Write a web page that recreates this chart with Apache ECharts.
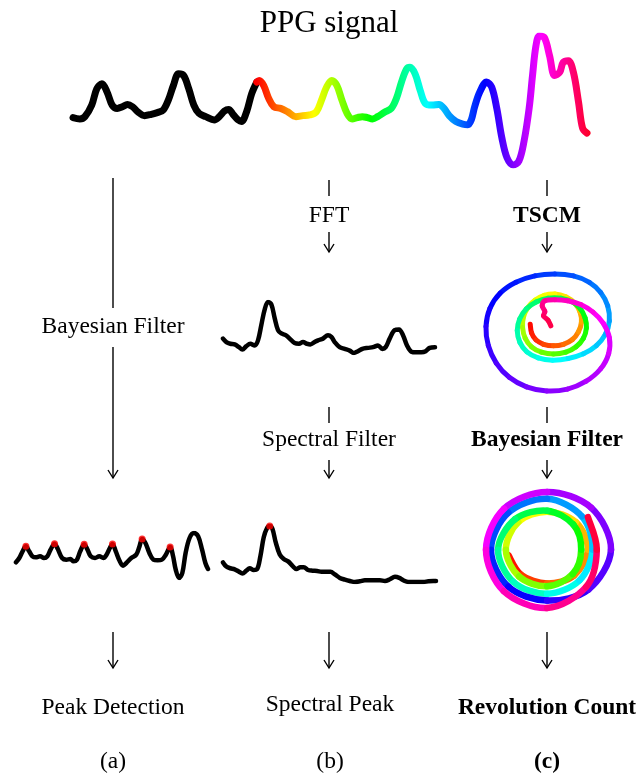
<!DOCTYPE html>
<html><head><meta charset="utf-8">
<script src="https://cdn.jsdelivr.net/npm/echarts@6.0.0/dist/echarts.min.js"></script>
<style>html,body{margin:0;padding:0;background:#fff}#c{width:644px;height:774px}</style>
</head><body><div id="c"></div>
<script>
// ---- data (in trace units) ----
const ppgBlack = [[25,268],[45,272],[60,265],[80,230],[95,180],[110,165],[125,190],[140,230],[155,240],[170,235],[185,228],[200,235],[215,250],[235,262],[255,258],[275,252],[290,245],[305,215],[320,170],[335,135],[350,140],[365,180],[380,230],[395,255],[415,265],[440,275],[455,265],[470,248],[482,243],[495,258],[510,275],[520,280],[535,250],[550,195],[565,160]];
const ppgColor = [[565,160],[572,155],[585,170],[600,210],[615,235],[635,240],[655,250],[680,265],[700,262],[720,260],[740,250],[755,215],[770,175],[785,155],[800,170],[815,215],[830,255],[845,272],[860,268],[875,265],[890,268],[905,272],[920,265],[940,252],[960,240],[975,210],[990,160],[1005,120],[1015,115],[1030,135],[1045,185],[1060,225],[1080,230],[1100,228],[1115,240],[1130,262],[1150,280],[1170,288],[1185,290],[1195,275],[1205,235],[1220,190],[1240,160],[1255,175],[1270,240],[1285,330],[1300,390],[1318,412],[1335,400],[1350,340],[1365,240],[1375,140],[1385,50],[1395,20],[1410,25],[1425,80],[1440,140],[1455,130],[1465,100],[1480,95],[1495,130],[1510,220],[1522,300],[1535,315]];
const peakSignal = [[45,158],[55,145],[65,125],[75,110],[85,125],[95,140],[105,143],[118,140],[130,145],[140,140],[150,120],[162,102],[172,118],[185,145],[198,150],[210,148],[220,155],[230,150],[240,125],[252,104],[262,120],[272,140],[285,145],[298,140],[310,145],[320,135],[330,115],[338,103],[348,125],[358,150],[370,168],[380,160],[395,145],[410,135],[420,110],[428,88],[438,100],[450,130],[462,150],[475,152],[488,150],[500,135],[513,112],[522,140],[530,180],[540,205],[550,190],[560,130],[572,85],[585,70],[598,80],[610,120],[620,160],[628,178]];
const peakIdx = [3,11,19,27,35,42];
const fftSpectrum = [[40,145],[50,155],[62,160],[75,162],[88,170],[98,177],[110,167],[122,160],[135,165],[145,150],[155,105],[165,60],[175,38],[185,45],[195,85],[205,120],[215,130],[228,135],[240,145],[255,158],[268,160],[280,155],[292,160],[302,162],[315,155],[325,150],[340,145],[355,135],[365,140],[375,155],[390,170],[405,175],[420,180],[432,187],[445,182],[458,175],[475,172],[490,170],[505,165],[518,175],[528,170],[540,145],[555,120],[568,118],[580,135],[592,165],[605,183],[620,185],[635,185],[648,182],[660,172],[676,170]];
const filteredSpectrum = [[40,158],[50,170],[62,175],[75,178],[88,185],[98,190],[110,182],[120,175],[132,180],[142,178],[152,140],[162,85],[172,58],[180,52],[188,60],[198,100],[210,135],[222,148],[235,155],[248,168],[260,177],[272,172],[282,172],[295,180],[308,182],[322,183],[335,185],[348,185],[362,185],[375,193],[390,203],[405,208],[420,212],[435,215],[450,213],[465,210],[480,210],[495,210],[510,210],[525,212],[540,207],[555,200],[568,203],[580,210],[595,215],[610,215],[625,215],[640,215],[655,213],[670,212],[678,212]];
const spectralPeakIdx = [13];
const tscmRaw = [[178,158],[182,185],[195,207],[218,221],[248,226],[278,221],[305,206],[323,182],[332,152],[328,120],[312,92],[285,72],[252,63],[220,67],[193,82],[172,104],[158,134],[155,168],[163,202],[182,229],[212,246],[248,252],[285,246],[316,229],[338,202],[347,170],[343,138],[328,108],[303,87],[270,76],[232,76],[196,88],[166,110],[146,142],[139,178],[147,215],[168,245],[202,264],[245,271],[292,266],[338,251],[377,225],[404,190],[416,148],[411,100],[390,58],[356,26],[308,6],[252,0],[192,6],[135,26],[88,60],[57,108],[45,165],[52,225],[76,280],[115,325],[167,355],[228,368],[290,362],[345,338],[390,298],[414,250],[416,200],[398,155],[367,120],[330,96],[290,84],[252,81],[222,84],[214,100],[222,118],[218,132],[232,146],[240,163]];
const tscmFiltered = [[119,228],[155,286],[228,312],[304,288],[343,212],[309,131],[228,100],[147,131],[112,212],[149,291],[228,320],[300,284],[324,212],[302,138],[228,97],[138,122],[90,212],[133,307],[228,342],[319,303],[356,212],[326,114],[228,62],[119,103],[70,212],[119,321],[228,362],[345,329],[408,212],[352,88],[228,42],[107,91],[56,212],[106,334],[228,384],[338,322],[368,212],[343,116]];
const labels = ['PPG signal','Bayesian Filter','FFT','TSCM','Spectral Filter','Bayesian Filter','Peak Detection','Spectral Peak','Revolution Count','(a)','(b)','(c)'];

// ---- layout ----
const grids = [
  {left:73, top:36, width:514, height:129, x:[25,1535], y:[20,412]},
  {left:16, top:533, width:192, height:45, x:[45,628], y:[70,205]},
  {left:223, top:302, width:212, height:51, x:[40,676], y:[38,187]},
  {left:223, top:526, width:213, height:56, x:[40,678], y:[52,215]},
  {left:486, top:274, width:124, height:117, x:[45,418], y:[0,368]},
  {left:486, top:492, width:125, height:116, x:[56,408], y:[42,384]}
];

// colour runs along the trajectory (time order), red -> magenta/pink
function rainbow(pts, gi, lw, hueEnd) {
  const n = pts.length;
  return {
    type:'custom', coordinateSystem:'cartesian2d', xAxisIndex:gi, yAxisIndex:gi, silent:true,
    data: pts.map(p => [p[0], p[1]]),
    renderItem(params, api) {
      const i = params.dataIndex;
      if (i >= n-1) return null;
      const c = k => api.coord(pts[Math.max(0, Math.min(n-1, k))]);
      const p0=c(i-1), p1=c(i), p2=c(i+1), p3=c(i+2);
      const t = 1/6;
      const hue = hueEnd * (i + 0.5) / (n - 1);
      return {type:'bezierCurve', shape:{x1:p1[0],y1:p1[1],x2:p2[0],y2:p2[1],
        cpx1:p1[0]+(p2[0]-p0[0])*t, cpy1:p1[1]+(p2[1]-p0[1])*t,
        cpx2:p2[0]-(p3[0]-p1[0])*t, cpy2:p2[1]-(p3[1]-p1[1])*t},
        style:{stroke:'hsl('+hue.toFixed(1)+',100%,50%)', lineWidth:lw, lineCap:'round', fill:null}};
    }
  };
}
function blackLine(data, gi, lw) {
  return {type:'line', xAxisIndex:gi, yAxisIndex:gi, data, symbol:'none', smooth:0.35, silent:true,
    lineStyle:{color:'#000', width:lw, cap:'round', join:'round'}};
}
function dots(src, idx, gi) {
  return {type:'scatter', xAxisIndex:gi, yAxisIndex:gi, data: idx.map(i => src[i]), symbolSize:7, silent:true,
    itemStyle:{color:'#ff0000'}, z:5};
}

const FONT = 'Liberation Serif';
const txt = (t, x, y, size, bold) => ({type:'text', x, y, silent:true,
  style:{text:t, fontFamily:FONT, fontSize:size, fontWeight:bold?'bold':'normal', fill:'#000', align:'center', verticalAlign:'middle'}});
const seg = (x, y1, y2) => ({type:'line', silent:true, shape:{x1:x,y1:y1,x2:x,y2:y2}, style:{stroke:'#000', lineWidth:1.4}});
const head = (x, y) => ({type:'polyline', silent:true, shape:{points:[[x-5,y-8],[x,y],[x+5,y-8]]}, style:{stroke:'#000', lineWidth:1.4, fill:null}});
const arrow = (x, y1, y2) => [seg(x, y1, y2), head(x, y2)];

const S = 23.5;
const graphics = [
  txt(labels[0], 329, 24, 31, false),
  txt(labels[1], 113, 327, S, false),
  txt(labels[2], 329, 216, S, false),
  txt(labels[3], 547, 216, S, true),
  txt(labels[4], 329, 440, S, false),
  txt(labels[5], 547, 440, S, true),
  txt(labels[6], 113, 708, S, false),
  txt(labels[7], 330, 705, S, false),
  txt(labels[8], 547, 708, S, true),
  txt(labels[9], 113, 762, S, false),
  txt(labels[10], 330, 762, S, false),
  txt(labels[11], 547, 762, S, true),
  seg(113, 178, 308), ...arrow(113, 347, 478), ...arrow(113, 632, 668),
  seg(329, 180, 196), ...arrow(329, 232, 252), seg(329, 407, 423), ...arrow(329, 460, 478), ...arrow(329, 632, 668),
  seg(547, 180, 196), ...arrow(547, 232, 252), seg(547, 407, 423), ...arrow(547, 460, 478), ...arrow(547, 632, 668)
];

const chart = echarts.init(document.getElementById('c'), null, {renderer:'canvas'});
chart.setOption({
  animation:false,
  backgroundColor:'#fff',
  grid: grids.map(g => ({left:g.left, top:g.top, width:g.width, height:g.height, outerBoundsMode:'none'})),
  xAxis: grids.map((g,i) => ({type:'value', gridIndex:i, min:g.x[0], max:g.x[1], show:false})),
  yAxis: grids.map((g,i) => ({type:'value', gridIndex:i, min:g.y[0], max:g.y[1], inverse:true, show:false})),
  visualMap: [{type:'continuous', show:false, seriesIndex:1, dimension:0, min:565, max:1568,
    inRange:{color:['#ff0000','#ffff00','#00ff00','#00ffff','#0000ff','#ff00ff','#ff0000']}}],
  series: [
    blackLine(ppgBlack, 0, 7),
    {type:'line', xAxisIndex:0, yAxisIndex:0, data:ppgColor, symbol:'none', smooth:0.35, silent:true,
      lineStyle:{width:7, cap:'round', join:'round'}},
    blackLine(peakSignal, 1, 4.5),
    dots(peakSignal, peakIdx, 1),
    blackLine(fftSpectrum, 2, 4.5),
    blackLine(filteredSpectrum, 3, 4.5),
    dots(filteredSpectrum, spectralPeakIdx, 3),
    rainbow(tscmRaw, 4, 5, 345),
    rainbow(tscmFiltered, 5, 6.5, 350)
  ],
  graphic: graphics
});
</script>
</body></html>
